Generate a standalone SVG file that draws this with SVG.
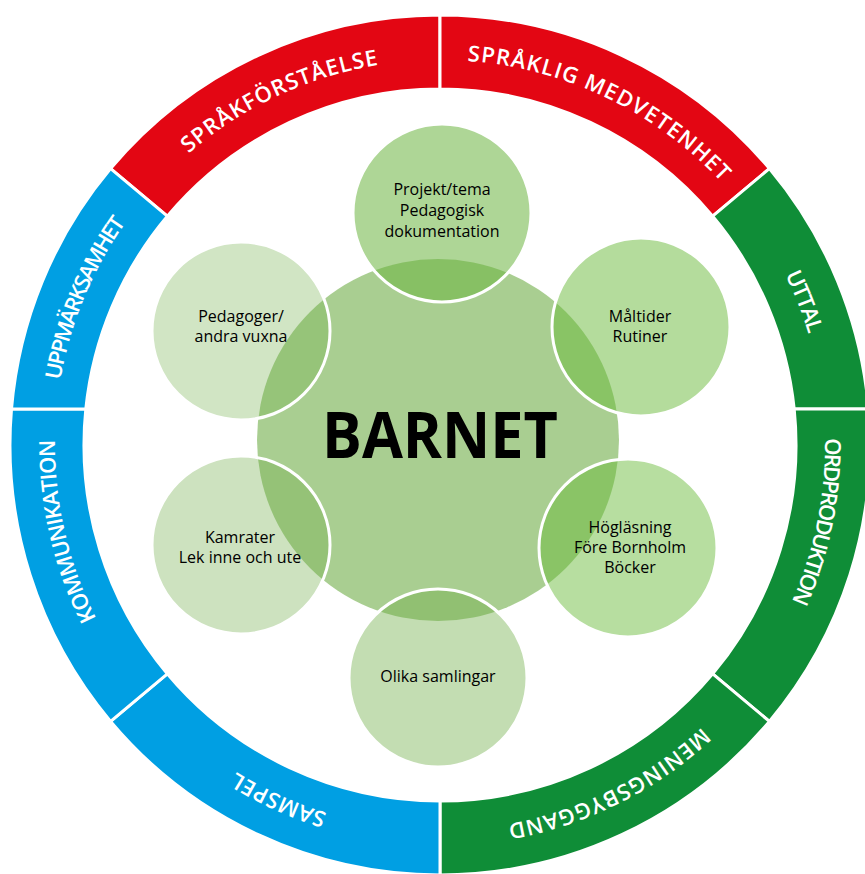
<svg xmlns="http://www.w3.org/2000/svg" xmlns:xlink="http://www.w3.org/1999/xlink" width="865" height="874" viewBox="0 0 865 874">
<style>
.seg{stroke:#fff;stroke-width:3;stroke-linejoin:round}
.red{fill:#E30613}.green{fill:#0F8D37}.blue{fill:#009FE3}
.rl{font-family:"Open Sans","DejaVu Sans",sans-serif;font-weight:600;font-size:22px;fill:#fff}
.bub{fill:#70AD47;stroke:#fff;stroke-width:3}
.bt{font-family:"Open Sans","DejaVu Sans",sans-serif;font-size:16px;fill:#000;text-anchor:middle}
.big{font-family:"Open Sans","DejaVu Sans",sans-serif;font-weight:700;font-size:64px;fill:#000;text-anchor:middle}
</style>
<defs>
<path id="t1" d="M 91.1 282.3 A 385 385 0 0 1 539.6 73.1"/>
<path id="t2" d="M 343.6 72.3 A 385 385 0 0 1 790.4 285.3"/>
<path id="t3" d="M 623.7 106.7 A 385 385 0 0 1 805.1 567.2"/>
<path id="t4" d="M 778.3 261.3 A 385 385 0 0 1 679.7 746.3"/>
<path id="t5" d="M 793.1 598.5 A 385 385 0 0 1 350.1 819.4"/>
<path id="t6" d="M 542.9 816.0 A 385 385 0 0 1 92.5 610.7"/>
<path id="t7" d="M 208.3 752.5 A 385 385 0 0 1 97.0 270.2"/>
<path id="t8" d="M 72.8 560.8 A 385 385 0 0 1 262.2 103.5"/>
</defs>
<g id="ring">
<g id="seg-sprakforstaelse">
<path class="seg red" d="M 110.6 168.6 A 430 430 0 0 1 440 15 L 440 89 A 356 356 0 0 0 167.3 216.2 Z"/>
<text class="rl"><textPath href="#t1" xlink:href="#t1" startOffset="50%" text-anchor="middle" textLength="212" lengthAdjust="spacing">SPRÅKFÖRSTÅELSE</textPath></text>
</g>
<g id="seg-spraklig-medvetenhet">
<path class="seg red" d="M 440 15 A 430 430 0 0 1 769.4 168.6 L 712.7 216.2 A 356 356 0 0 0 440 89 Z"/>
<text class="rl"><textPath href="#t2" xlink:href="#t2" startOffset="50%" text-anchor="middle" textLength="288" lengthAdjust="spacing">SPRÅKLIG MEDVETENHET</textPath></text>
</g>
<g id="seg-uttal">
<path class="seg green" d="M 769.4 168.6 A 430 430 0 0 1 868.5 409 L 794.2 409 A 356 356 0 0 0 712.7 216.2 Z"/>
<text class="rl"><textPath href="#t3" xlink:href="#t3" startOffset="50%" text-anchor="middle" textLength="64" lengthAdjust="spacing">UTTAL</textPath></text>
</g>
<g id="seg-ordproduktion">
<path class="seg green" d="M 868.5 409 A 430 430 0 0 1 769.4 721.4 L 712.7 673.8 A 356 356 0 0 0 794.2 409 Z"/>
<text class="rl"><textPath href="#t4" xlink:href="#t4" startOffset="50%" text-anchor="middle" textLength="168" lengthAdjust="spacing">ORDPRODUKTION</textPath></text>
</g>
<g id="seg-meningsbyggand">
<path class="seg green" d="M 769.4 721.4 A 430 430 0 0 1 440 875 L 440 801 A 356 356 0 0 0 712.7 673.8 Z"/>
<text class="rl"><textPath href="#t5" xlink:href="#t5" startOffset="50%" text-anchor="middle" textLength="220" lengthAdjust="spacing">MENINGSBYGGAND</textPath></text>
</g>
<g id="seg-samspel">
<path class="seg blue" d="M 440 875 A 430 430 0 0 1 110.6 721.4 L 167.3 673.8 A 356 356 0 0 0 440 801 Z"/>
<text class="rl"><textPath href="#t6" xlink:href="#t6" startOffset="50%" text-anchor="middle" textLength="100" lengthAdjust="spacing">SAMSPEL</textPath></text>
</g>
<g id="seg-kommunikation">
<path class="seg blue" d="M 110.6 721.4 A 430 430 0 0 1 11.5 409 L 85.8 409 A 356 356 0 0 0 167.3 673.8 Z"/>
<text class="rl"><textPath href="#t7" xlink:href="#t7" startOffset="50%" text-anchor="middle" textLength="185" lengthAdjust="spacing">KOMMUNIKATION</textPath></text>
</g>
<g id="seg-uppmarksamhet">
<path class="seg blue" d="M 11.5 409 A 430 430 0 0 1 110.6 168.6 L 167.3 216.2 A 356 356 0 0 0 85.8 409 Z"/>
<text class="rl"><textPath href="#t8" xlink:href="#t8" startOffset="50%" text-anchor="middle" textLength="172" lengthAdjust="spacing">UPPMÄRKSAMHET</textPath></text>
</g>
</g>
<g id="barnet">
<circle cx="438" cy="440" r="181" fill="#70AD47" fill-opacity="0.6"/>
</g>
<g id="projekt">
<circle class="bub" cx="442" cy="213" r="89" fill-opacity="0.55" style="fill:#6CB540"/>
<text class="bt"><tspan x="442" y="195">Projekt/tema</tspan><tspan x="442" y="216">Pedagogisk</tspan><tspan x="442" y="237">dokumentation</tspan></text>
</g>
<g id="maltider">
<circle class="bub" cx="641" cy="327" r="89" fill-opacity="0.5" style="fill:#69BA39"/>
<text class="bt"><tspan x="640" y="322">Måltider</tspan><tspan x="640" y="342">Rutiner</tspan></text>
</g>
<g id="hoglasning">
<circle class="bub" cx="628" cy="548" r="89" fill-opacity="0.48" style="fill:#69BA39"/>
<text class="bt"><tspan x="630" y="533">Högläsning</tspan><tspan x="630" y="553">Före Bornholm</tspan><tspan x="630" y="573">Böcker</tspan></text>
</g>
<g id="olika">
<circle class="bub" cx="438" cy="678" r="89" fill-opacity="0.42"/>
<text class="bt" x="438" y="682">Olika samlingar</text>
</g>
<g id="kamrater">
<circle class="bub" cx="241" cy="545" r="89" fill-opacity="0.35"/>
<text class="bt"><tspan x="240" y="543">Kamrater</tspan><tspan x="240" y="563">Lek inne och ute</tspan></text>
</g>
<g id="pedagoger">
<circle class="bub" cx="241" cy="331" r="89" fill-opacity="0.32"/>
<text class="bt"><tspan x="241" y="322">Pedagoger/</tspan><tspan x="241" y="342">andra vuxna</tspan></text>
</g>
<text class="big" x="440" y="458" textLength="236" lengthAdjust="spacingAndGlyphs">BARNET</text>
</svg>
